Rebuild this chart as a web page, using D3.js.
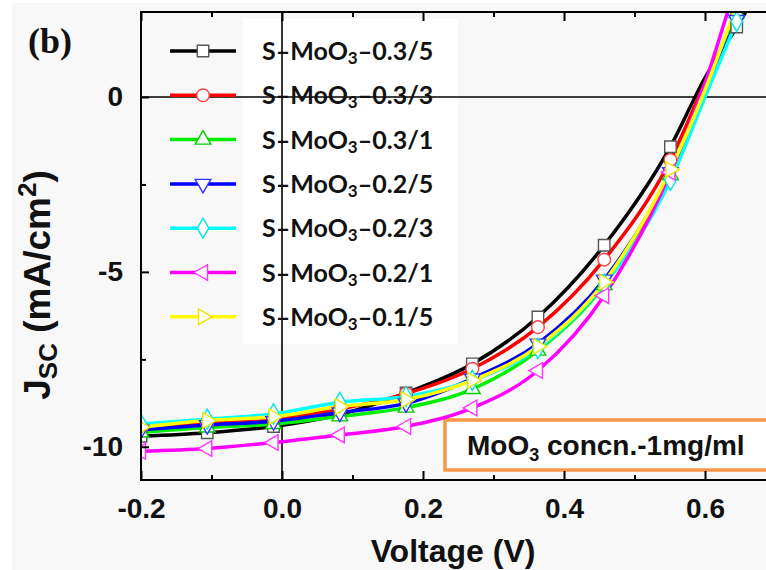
<!DOCTYPE html>
<html>
<head>
<meta charset="utf-8">
<script src="https://cdn.jsdelivr.net/npm/d3@7"></script>
<style>
  html, body { margin: 0; padding: 0; background: #ffffff; }
  svg { display: block; }
</style>
</head>
<body>
<svg id="chart" width="766" height="570"></svg>
<script>
// ---- data ----
const voltage = [-0.2, -0.106, -0.012, 0.082, 0.176, 0.27, 0.363, 0.457, 0.551, 0.6, 0.645, 0.7];
const markerVoltage = [-0.2, -0.106, -0.012, 0.082, 0.176, 0.27, 0.363, 0.457, 0.551, 0.645];
const seriesNames = ["0.3/5", "0.3/3", "0.3/1", "0.2/5", "0.2/3", "0.2/1", "0.1/5"];
const jBlack   = [-9.70, -9.60, -9.42, -9.08, -8.46, -7.63, -6.29, -4.24, -1.42, 0.55, 2.0, 3.9];
const jRed     = [-9.47, -9.33, -9.20, -8.92, -8.48, -7.77, -6.58, -4.65, -1.80, 0.40, 2.3, 4.4];
const jGreen   = [-9.59, -9.45, -9.35, -9.13, -8.88, -8.35, -7.25, -5.38, -2.23, 0.15, 2.4, 5.0];
const jBlue    = [-9.51, -9.38, -9.27, -9.02, -8.76, -8.05, -7.05, -5.22, -2.15, 0.10, 2.2, 4.8];
const jCyan    = [-9.35, -9.21, -9.06, -8.73, -8.56, -8.10, -7.19, -5.35, -2.38, 0.00, 2.16, 4.7];
const jMagenta = [-10.13, -10.05, -9.88, -9.66, -9.42, -8.89, -7.82, -5.68, -2.15, 0.40, 3.2, 5.8];
const jYellow  = [-9.44, -9.25, -9.14, -8.85, -8.65, -8.10, -7.13, -5.29, -2.07, 0.20, 2.6, 5.2];
const seriesValues = [jBlack, jRed, jGreen, jBlue, jCyan, jMagenta, jYellow];
const seriesColors = ["#000000", "#ff0000", "#00ee00", "#0000ff", "#00ffff", "#ff00ff", "#ffff00"];
const markerStroke = ["#555555", "#ff4040", "#00cc00", "#3333ff", "#00e5e5", "#ff33ff", "#e6e600"];
const seriesMarkers = ["square", "circle", "up", "down", "diamond", "left", "right"];
const xTickMajor = [-0.2, 0.0, 0.2, 0.4, 0.6];
const xTickMinor = [-0.1, 0.1, 0.3, 0.5];
const yTickMajor = [-10, -5, 0];
const yTickMinor = [-7.5, -2.5];

// ---- layout ----
const svg = d3.select("#chart");
const L = 141, T = 12, B = 480, R = 775.5;
const x = d3.scaleLinear().domain([-0.2, 0.7]).range([L, R]);
const y = d3.scaleLinear().domain([-10.95, 2.43]).range([B, T]);
const fmtTick = v => {
  const s = d3.format(".1f")(Math.abs(v));
  return v < 0 ? "-" + s : s;
};

svg.append("rect").attr("x", 0).attr("y", 0).attr("width", 766).attr("height", 570).attr("fill", "#ffffff");
svg.append("rect").attr("x", 12).attr("y", 3).attr("width", 754).attr("height", 567).attr("fill", "#f8f8f8");

svg.append("defs").append("clipPath").attr("id", "plotclip")
  .append("rect").attr("x", L).attr("y", T).attr("width", R - L).attr("height", B - T);

// legend text white box
svg.append("rect").attr("x", 243).attr("y", 19).attr("width", 215).attr("height", 325).attr("fill", "#ffffff");

// zero lines
svg.append("line").attr("x1", L).attr("x2", R).attr("y1", y(0)).attr("y2", y(0))
  .attr("stroke", "#000").attr("stroke-width", 1.6);
svg.append("line").attr("x1", x(0)).attr("x2", x(0)).attr("y1", T).attr("y2", B)
  .attr("stroke", "#000").attr("stroke-width", 1.6);

// annotation box
const ann = svg.append("g");
ann.append("rect").attr("x", 445).attr("y", 420).attr("width", 340).attr("height", 50)
  .attr("fill", "#ffffff").attr("stroke", "#f79646").attr("stroke-width", 3.5);
const annText = ann.append("text").attr("x", 467).attr("y", 455)
  .attr("font-family", "'Liberation Sans', Arial, sans-serif").attr("font-weight", "bold")
  .attr("font-size", 28).attr("fill", "#111");
annText.append("tspan").text("MoO");
annText.append("tspan").attr("font-size", 18).attr("dy", 6).text("3");
annText.append("tspan").attr("dy", -6).text(" concn.-1mg/ml");

// symbol factory
function symbolPath(kind, size) {
  const tri = d3.symbol().type(d3.symbolTriangle).size(size)();
  switch (kind) {
    case "square": return { d: d3.symbol().type(d3.symbolSquare).size(size * 1.25)(), rot: 0 };
    case "circle": return { d: d3.symbol().type(d3.symbolCircle).size(size * 1.2)(), rot: 0 };
    case "diamond": return { d: d3.symbol().type(d3.symbolDiamond).size(size * 1.1)(), rot: 0 };
    case "up": return { d: tri, rot: 0 };
    case "down": return { d: tri, rot: 180 };
    case "left": return { d: tri, rot: -90 };
    case "right": return { d: tri, rot: 90 };
  }
}

// curves
const plot = svg.append("g").attr("clip-path", "url(#plotclip)");
const line = d3.line().x(d => x(d[0])).y(d => y(d[1])).curve(d3.curveMonotoneX);
seriesValues.forEach((vals, i) => {
  const pts = voltage.map((v, k) => [v, vals[k]]);
  plot.append("path").datum(pts).attr("d", line)
    .attr("fill", "none").attr("stroke", seriesColors[i]).attr("stroke-width", 3.5)
    .attr("stroke-linejoin", "round");
});
seriesValues.forEach((vals, i) => {
  const pts = voltage.map((v, k) => [v, vals[k]]).filter(p => markerVoltage.includes(p[0]));
  const s = symbolPath(seriesMarkers[i], 105);
  plot.selectAll(null).data(pts).enter().append("path")
    .attr("d", s.d)
    .attr("transform", d => `translate(${x(d[0])},${y(d[1])}) rotate(${s.rot})`)
    .attr("fill", "#ffffff").attr("stroke", markerStroke[i]).attr("stroke-width", 1.4);
});

// frame
svg.append("line").attr("x1", L).attr("x2", 766).attr("y1", T).attr("y2", T).attr("stroke", "#000").attr("stroke-width", 2);
svg.append("line").attr("x1", L).attr("x2", 766).attr("y1", B).attr("y2", B).attr("stroke", "#000").attr("stroke-width", 2);
svg.append("line").attr("x1", L).attr("x2", L).attr("y1", T - 1).attr("y2", B + 1).attr("stroke", "#000").attr("stroke-width", 2);

// axes via d3
const tickFont = "'Liberation Sans', Arial, sans-serif";
const xBottom = svg.append("g").attr("transform", `translate(0,${B})`)
  .call(d3.axisBottom(x).tickValues(xTickMajor).tickSize(-9).tickPadding(18).tickFormat(fmtTick));
const xBottomMinor = svg.append("g").attr("transform", `translate(0,${B})`)
  .call(d3.axisBottom(x).tickValues(xTickMinor).tickSize(-5).tickFormat(""));
const xTop = svg.append("g").attr("transform", `translate(0,${T})`)
  .call(d3.axisTop(x).tickValues(xTickMajor).tickSize(-9).tickFormat(""));
const xTopMinor = svg.append("g").attr("transform", `translate(0,${T})`)
  .call(d3.axisTop(x).tickValues(xTickMinor).tickSize(-5).tickFormat(""));
const yLeft = svg.append("g").attr("transform", `translate(${L},0)`)
  .call(d3.axisLeft(y).tickValues(yTickMajor).tickSize(-8).tickPadding(18).tickFormat(d => d === 0 ? "0" : "-" + Math.abs(d)));
const yLeftMinor = svg.append("g").attr("transform", `translate(${L},0)`)
  .call(d3.axisLeft(y).tickValues(yTickMinor).tickSize(-5).tickFormat(""));
[xBottom, xBottomMinor, xTop, xTopMinor, yLeft, yLeftMinor].forEach(g => {
  g.select(".domain").remove();
  g.selectAll(".tick line").attr("stroke", "#000").attr("stroke-width", 2);
  g.selectAll(".tick text").attr("font-family", tickFont).attr("font-weight", "bold")
    .attr("font-size", 28).attr("fill", "#111");
});
xBottom.selectAll(".tick text").attr("dy", "0.71em");

// axis titles
svg.append("text").attr("x", 453).attr("y", 562).attr("text-anchor", "middle")
  .attr("font-family", tickFont).attr("font-weight", "bold").attr("font-size", 32).attr("fill", "#111")
  .text("Voltage (V)");
const yt = svg.append("text").attr("transform", "translate(50,285) rotate(-90)").attr("text-anchor", "middle")
  .attr("font-family", tickFont).attr("font-weight", "bold").attr("font-size", 37).attr("fill", "#111");
yt.append("tspan").text("J");
yt.append("tspan").attr("font-size", 26).attr("dy", 7).text("SC");
yt.append("tspan").attr("dy", -7).text(" (mA/cm");
yt.append("tspan").attr("font-size", 26).attr("dy", -14).text("2");
yt.append("tspan").attr("dy", 14).text(")");

// panel label
svg.append("text").attr("x", 28).attr("y", 53)
  .attr("font-family", "'Liberation Serif', 'Times New Roman', serif").attr("font-weight", "bold")
  .attr("font-size", 36).attr("fill", "#111").text("(b)");

// legend
const legY0 = 51, legDy = 44.3;
seriesNames.forEach((name, i) => {
  const gy = legY0 + i * legDy;
  const g = svg.append("g");
  g.append("line").attr("x1", 170).attr("x2", 236).attr("y1", gy).attr("y2", gy)
    .attr("stroke", seriesColors[i]).attr("stroke-width", 3.5);
  const s = symbolPath(seriesMarkers[i], 105);
  g.append("path").attr("d", s.d).attr("transform", `translate(203,${gy}) rotate(${s.rot})`)
    .attr("fill", "#ffffff").attr("stroke", markerStroke[i]).attr("stroke-width", 1.4);
  const t = g.append("text").attr("x", 262).attr("y", gy + 9)
    .attr("font-family", "Lato, 'Open Sans', sans-serif").attr("font-weight", "bold")
    .attr("font-size", 25).attr("fill", "#111");
  t.append("tspan").text("S\u2013MoO");
  t.append("tspan").attr("font-size", 17).attr("dy", 4).text("3");
  t.append("tspan").attr("dy", -4).text("\u2013" + name);
});
</script>
</body>
</html>
